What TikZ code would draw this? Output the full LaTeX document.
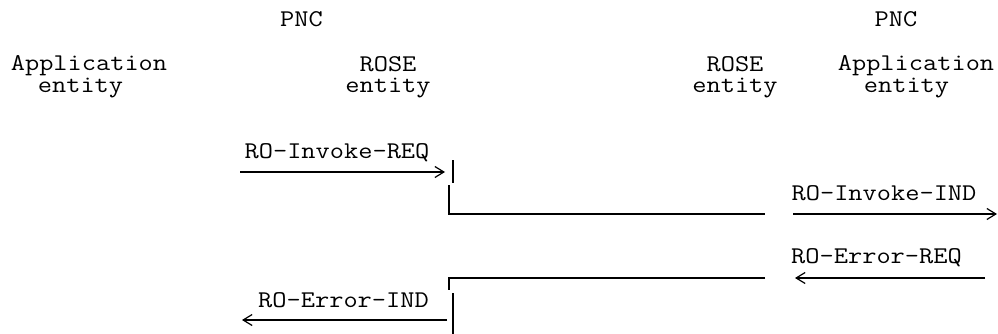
\documentclass[tikz,border=0pt]{standalone}
\usetikzlibrary{arrows.meta}
\begin{document}
\begin{tikzpicture}[x=1pt,y=-1pt,
  lbl/.style={font=\ttfamily\fontsize{24}{21.5}\selectfont,xscale=1.15,inner sep=0pt,
    text height=14pt,text depth=4pt,anchor=base},
  pair/.style={font=\ttfamily\fontsize{24}{21.5}\selectfont,xscale=1.15,inner sep=0pt,
    align=center,anchor=north},
  wire/.style={line width=1.2pt},
  msg/.style={wire,-{Straight Barb[length=9pt,width=11pt]}}]
\useasboundingbox (0,0) rectangle (998,334);
% heads
\node[lbl] (pncL) at (301.5,27) {PNC};
\node[lbl] (pncR) at (896,27) {PNC};
\node[lbl] (appL) at (89,71) {Application};
\node[lbl] (appLe) at (80.5,93) {entity};
\node[pair] (roseL) at (388,56) {ROSE\\entity};
\node[pair] (roseR) at (735,56) {ROSE\\entity};
\node[lbl] (appR) at (916,71) {Application};
\node[lbl] (appRe) at (906.5,93) {entity};
% primitives
\node[lbl] (invReq) at (337,158) {RO-Invoke-REQ};
\node[lbl] (invInd) at (884,200) {RO-Invoke-IND};
\node[lbl] (errReq) at (876.5,263) {RO-Error-REQ};
\node[lbl] (errInd) at (343.5,307) {RO-Error-IND};
% invoke
\coordinate (reqA) at (240,172); \coordinate (reqB) at (445,172);
\draw[msg] (reqA) -- (reqB);
\coordinate (barT) at (453,160); \coordinate (barM) at (453,183);
\draw[wire] (barT) -- (barM);
\coordinate (barN) at (449,185); \coordinate (cnrA) at (449,214); \coordinate (lnkA) at (765,214);
\draw[wire] (barN) -- (cnrA) -- (lnkA);
\coordinate (indA) at (793,214); \coordinate (indB) at (997,214);
\draw[msg] (indA) -- (indB);
% error
\coordinate (errA) at (985,278); \coordinate (errB) at (795,278);
\draw[msg] (errA) -- (errB);
\coordinate (lnkB) at (765,278); \coordinate (cnrB) at (449,278); \coordinate (barP) at (449,290);
\draw[wire] (lnkB) -- (cnrB) -- (barP);
\coordinate (barQ) at (453,293); \coordinate (barR) at (453,334);
\draw[wire] (barQ) -- (barR);
\coordinate (eindA) at (447,320); \coordinate (eindB) at (242,320);
\draw[msg] (eindA) -- (eindB);
\end{tikzpicture}
\end{document}
